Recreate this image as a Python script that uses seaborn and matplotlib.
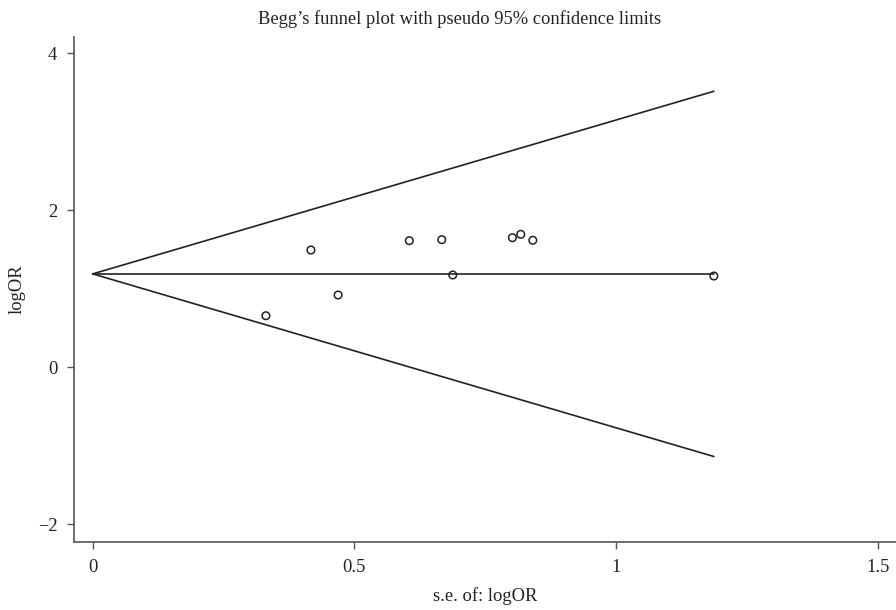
import numpy as np
import pandas as pd
import matplotlib
matplotlib.use("Agg")
import matplotlib.pyplot as plt
import seaborn as sns

# study estimates
se = [0.331, 0.417, 0.469, 0.605, 0.667, 0.688, 0.802, 0.818, 0.841, 1.187]
log_or = [0.657, 1.494, 0.921, 1.613, 1.626, 1.176, 1.651, 1.694, 1.618, 1.163]
pooled = 1.19
se_max = 1.187

x_ticks = [0, 0.5, 1, 1.5]
x_tick_labels = ["0", "0.5", "1", "1.5"]
y_ticks = [-2, 0, 2, 4]
y_tick_labels = ["\u22122", "0", "2", "4"]

sns.set_style("ticks")
plt.rcParams['font.family'] = ['Liberation Serif', 'DejaVu Serif']

fig = plt.figure(figsize=(8.96, 6.10), dpi=100)
ax = fig.add_axes([0.0826, 0.1115, 0.9174, 0.8279])

# pseudo 95% confidence limits
s = np.array([0, se_max])
lines = pd.DataFrame({
    'se': np.concatenate([s, s, s]),
    'y': np.concatenate([pooled + 1.96 * s, np.full(2, pooled), pooled - 1.96 * s]),
    'line': ['upper'] * 2 + ['mid'] * 2 + ['lower'] * 2,
})
sns.lineplot(data=lines, x='se', y='y', units='line', estimator=None,
             color='#222222', linewidth=1.2, ax=ax, legend=False)

df = pd.DataFrame({'se': se, 'logOR': log_or})
sns.scatterplot(data=df, x='se', y='logOR', ax=ax, marker='o', s=30,
                facecolor='none', edgecolor='#222222', linewidth=1.1, zorder=3)

ax.set_xlim(-0.0357, 1.535)
ax.set_ylim(-2.225, 4.208)
ax.set_xticks(x_ticks)
ax.set_xticklabels(x_tick_labels)
ax.set_yticks(y_ticks)
ax.set_yticklabels(y_tick_labels)

for side in ['top', 'right']:
    ax.spines[side].set_visible(False)
for side in ['left', 'bottom']:
    ax.spines[side].set_color('#555555')
    ax.spines[side].set_linewidth(1.2)
ax.tick_params(colors='#555555', labelcolor='#222222', labelsize=13.3,
               length=5, width=1, pad=7)

ax.set_xlabel('s.e. of: logOR', fontsize=13.3, color='#222222', labelpad=8)
ax.set_ylabel('logOR', fontsize=13.3, color='#222222', labelpad=9)
fig.text(0.513, 0.968, "Begg\u2019s funnel plot with pseudo 95% confidence limits",
         ha='center', va='center', fontsize=13.3, color='#222222')

fig.savefig('out.png', dpi=100)
